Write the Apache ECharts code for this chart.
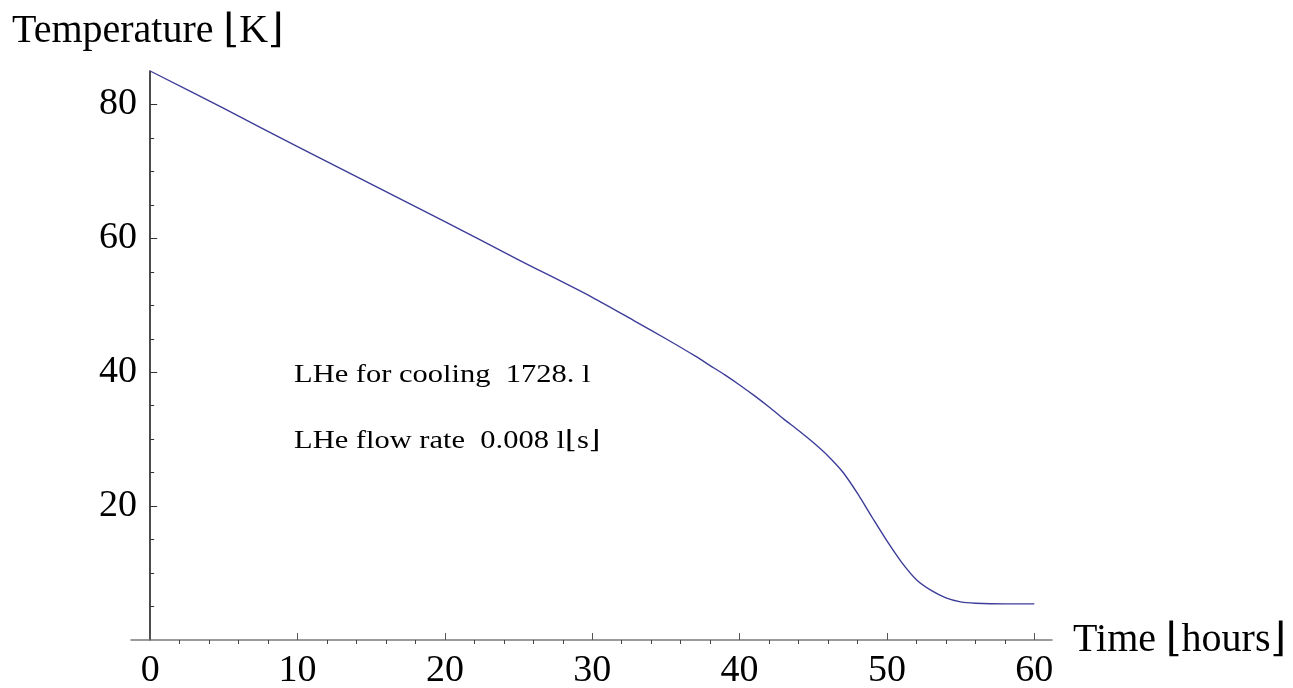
<!DOCTYPE html>
<html>
<head>
<meta charset="utf-8">
<script src="https://cdn.jsdelivr.net/npm/echarts@6/dist/echarts.min.js"></script>
<style>
html,body{margin:0;padding:0;background:#fff;}
#chart{width:1293px;height:688px;}
</style>
</head>
<body>
<div id="chart"></div>
<script>
// Data
const timeHours = [0, 5, 10, 15, 20, 25, 30, 33, 35, 37, 38, 39, 40, 41, 42, 43, 44, 45, 46, 47, 48, 49, 50, 51, 52, 53, 54, 55, 56, 58, 60];
const temperatureK = [85, 79.4, 73.7, 68.1, 62.5, 56.8, 51.2, 47.5, 45.0, 42.4, 41.0, 39.6, 38.1, 36.5, 34.8, 33.0, 31.3, 29.5, 27.5, 25.1, 21.9, 18.3, 14.8, 11.6, 9.0, 7.4, 6.3, 5.7, 5.5, 5.4, 5.4];
const xMajorTicks = [0, 10, 20, 30, 40, 50, 60];
const xMinorTicks = [2, 4, 6, 8, 12, 14, 16, 18, 22, 24, 26, 28, 32, 34, 36, 38, 42, 44, 46, 48, 52, 54, 56, 58];
const yMajorTicks = [20, 40, 60, 80];
const yMinorTicks = [5, 10, 15, 25, 30, 35, 45, 50, 55, 65, 70, 75];
const yTitle = 'Temperature \u230AK\u230B';
const xTitle = 'Time \u230Ahours\u230B';
const notes = ['LHe for cooling  1728. l', 'LHe flow rate  0.008 l\u230As\u230B'];

const serif = '"Liberation Serif", "DejaVu Serif", serif';
const chart = echarts.init(document.getElementById('chart'), null, {renderer: 'canvas'});

const seriesData = timeHours.map((t, i) => [t, temperatureK[i]]);

const xBase = {
  type: 'value', min: -1.3, max: 61.2, splitLine: {show: false}
};
const yBase = {
  type: 'value', min: 0, max: 85, splitLine: {show: false}
};

chart.setOption({
  backgroundColor: '#ffffff',
  animation: false,
  grid: {left: 131, right: 241, top: 71, bottom: 48, containLabel: false, outerBoundsMode: 'none'},
  xAxis: [
    Object.assign({}, xBase, {
      axisLine: {show: true, onZero: true, onZeroAxisIndex: 0, lineStyle: {color: '#7a7a7a', width: 1.5}},
      axisTick: {show: true, inside: true, length: 7, customValues: xMajorTicks, lineStyle: {color: '#555', width: 1}},
      axisLabel: {show: true, customValues: xMajorTicks, margin: 12, fontFamily: serif, fontSize: 38, color: '#000'},
      name: xTitle, nameLocation: 'end', nameGap: 21,
      nameTextStyle: {fontFamily: serif, fontSize: 40, color: '#000', align: 'left', verticalAlign: 'middle', padding: [4, 0, 0, 0]}
    }),
    Object.assign({}, xBase, {
      axisLine: {show: false, onZero: true, onZeroAxisIndex: 0},
      axisTick: {show: true, inside: true, length: 4, customValues: xMinorTicks, lineStyle: {color: '#444', width: 1}},
      axisLabel: {show: false}
    })
  ],
  yAxis: [
    Object.assign({}, yBase, {
      axisLine: {show: true, onZero: true, onZeroAxisIndex: 0, lineStyle: {color: '#111', width: 1.5}},
      axisTick: {show: true, inside: true, length: 7, customValues: yMajorTicks, lineStyle: {color: '#333', width: 1}},
      axisLabel: {show: true, customValues: yMajorTicks, margin: -6, fontFamily: serif, fontSize: 38, color: '#000'}
    }),
    Object.assign({}, yBase, {
      position: 'left',
      axisLine: {show: false, onZero: true, onZeroAxisIndex: 0},
      axisTick: {show: true, inside: true, length: 4, customValues: yMinorTicks, lineStyle: {color: '#333', width: 1}},
      axisLabel: {show: false}
    })
  ],
  series: [{
    type: 'line',
    xAxisIndex: 0,
    yAxisIndex: 0,
    data: seriesData,
    showSymbol: false,
    smooth: 0.3,
    lineStyle: {color: '#3d3d99', width: 1.4}
  }],
  graphic: [
    {type: 'text', left: 12, top: 11, style: {text: yTitle, font: '40px ' + serif, fill: '#000'}},
    {type: 'text', x: 294, y: 375, scaleX: 1.22, style: {text: notes[0], font: '25px ' + serif, fill: '#000', verticalAlign: 'middle'}},
    {type: 'text', x: 294, y: 441, scaleX: 1.22, style: {text: notes[1], font: '25px ' + serif, fill: '#000', verticalAlign: 'middle'}}
  ]
});
</script>
</body>
</html>
